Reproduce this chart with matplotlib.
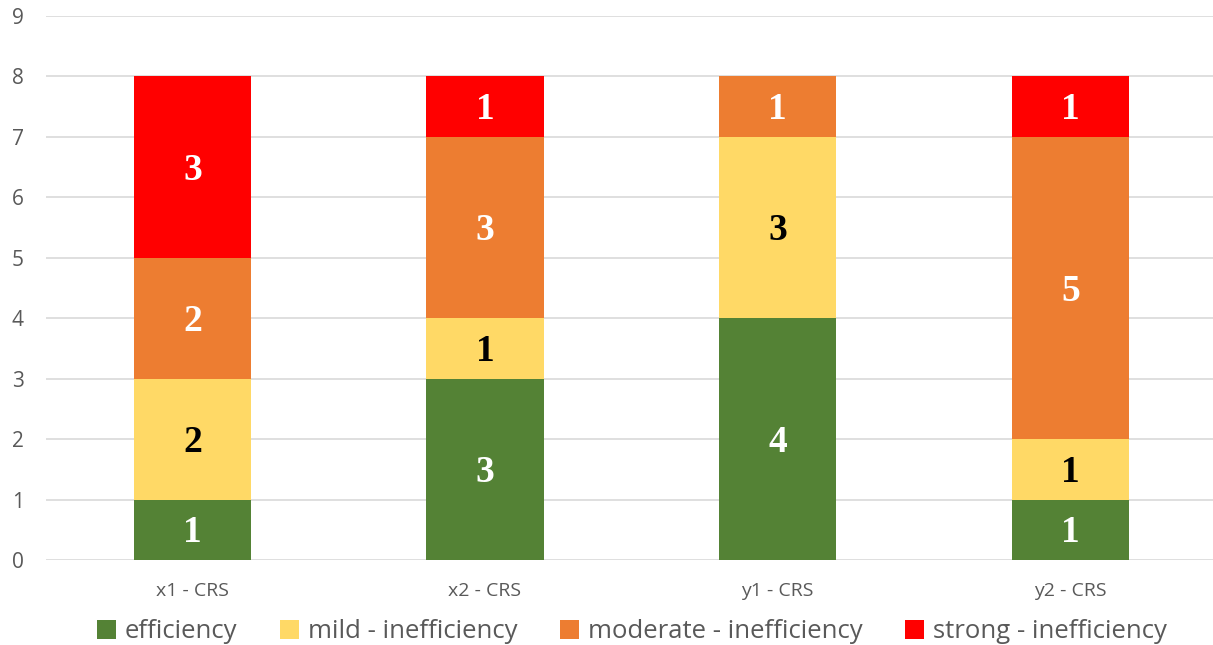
import matplotlib
matplotlib.use("Agg")
import matplotlib.pyplot as plt
import numpy as np

categories = ["x1 - CRS", "x2 - CRS", "y1 - CRS", "y2 - CRS"]
series_names = ["efficiency", "mild - inefficiency", "moderate - inefficiency", "strong - inefficiency"]
efficiency = [1, 3, 4, 1]
mild = [2, 1, 3, 1]
moderate = [2, 3, 1, 5]
strong = [3, 1, 0, 1]
yticks = list(range(0, 10))

colors = ["#548235", "#FFD966", "#ED7D31", "#FF0000"]
label_colors = ["white", "black", "white", "white"]

fig = plt.figure(figsize=(12.13, 6.45), dpi=100)
ax = fig.add_axes([46/1213, 85/645, 1 - 46/1213 + 0.003, (560-16)/645])

x = np.arange(len(categories))
bottom = np.zeros(len(categories))
handles = []
lfs = 27
for vals, col, lc, name in zip([efficiency, mild, moderate, strong], colors, label_colors, series_names):
    vals = np.array(vals, dtype=float)
    bars = ax.bar(x, vals, width=0.4, bottom=bottom, color=col, label=name, zorder=3)
    handles.append(bars)
    for xi, v, b in zip(x, vals, bottom):
        if v > 0:
            ax.annotate(f"{int(v)}", (xi, b + v / 2), xytext=(0, -0.338 * lfs), textcoords="offset points",
                        ha="center", va="baseline", color=lc,
                        fontsize=lfs, fontweight="bold", family="Liberation Serif", zorder=4)
    bottom += vals

ax.set_xlim(-0.5, 3.5)
ax.set_ylim(0, 9)
ax.set_yticks(yticks)
ax.yaxis.grid(True, color="#D9D9D9", linewidth=1.2, zorder=0)
for s in ax.spines.values():
    s.set_visible(False)
ax.tick_params(axis="both", length=0, colors="#595959")
ax.tick_params(axis="y", pad=16)
ax.tick_params(axis="x", pad=16)
ax.set_xticks(x)
ax.set_xticklabels(categories, family="Open Sans", fontsize=14)
for t in ax.get_yticklabels():
    t.set_family("Open Sans")
    t.set_fontsize(15)

leg = fig.legend(handles=handles, labels=series_names, loc="center", bbox_to_anchor=(0.521, 1 - 632/645),
                 ncol=4, frameon=False, prop={"family": "Open Sans", "size": 18.5},
                 handlelength=0.75, handleheight=0.75, handletextpad=0.35, columnspacing=1.65)
for t in leg.get_texts():
    t.set_color("#595959")

fig.savefig("out.png", dpi=100)
